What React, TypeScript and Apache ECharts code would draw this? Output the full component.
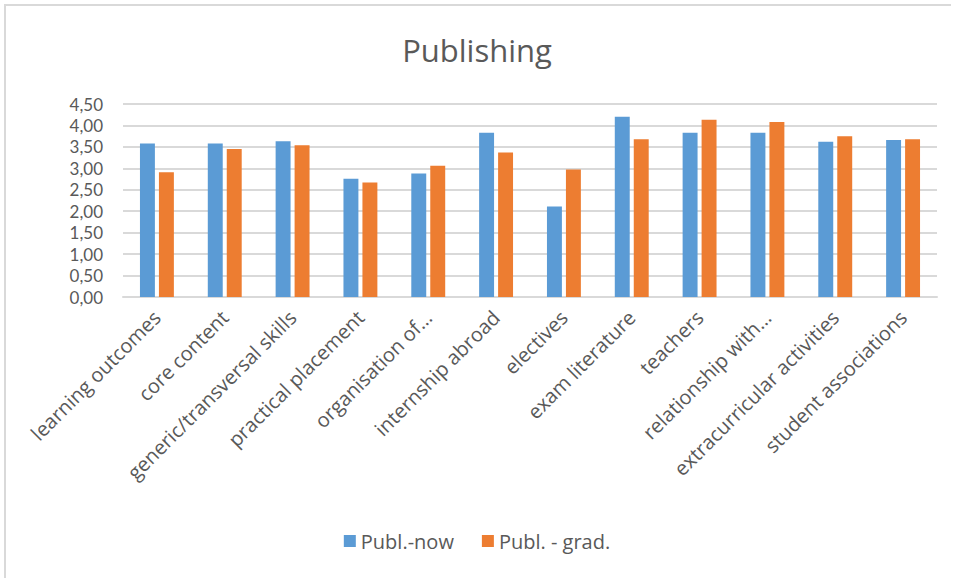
import React, { useEffect, useRef } from "react";
import * as echarts from "echarts";

const categories = [
  "learning outcomes",
  "core content",
  "generic/transversal skills",
  "practical placement",
  "organisation of…",
  "internship abroad",
  "electives",
  "exam literature",
  "teachers",
  "relationship with…",
  "extracurricular activities",
  "student associations",
];
const publNow = [3.58, 3.58, 3.63, 2.76, 2.88, 3.83, 2.11, 4.2, 3.83, 3.83, 3.62, 3.66];
const publGrad = [2.91, 3.45, 3.54, 2.67, 3.06, 3.37, 2.97, 3.68, 4.13, 4.08, 3.75, 3.68];
const seriesNames = ["Publ.-now", "Publ. - grad."];
const yMin = 0;
const yMax = 4.5;
const yInterval = 0.5;

const FONT = "'Open Sans', 'Noto Sans', sans-serif";
const TICK_FONT = "Lato, 'Open Sans', sans-serif";
const GRAY = "#595959";

export default function App() {
  const ref = useRef<HTMLDivElement>(null);
  useEffect(() => {
    if (!ref.current) return;
    const chart = echarts.init(ref.current, undefined, { renderer: "svg" });
    chart.setOption({
      animation: false,
      backgroundColor: "#ffffff",
      textStyle: { fontFamily: FONT },
      title: {
        text: "Publishing",
        left: "center",
        top: 29,
        textStyle: { fontFamily: FONT, fontSize: 31, fontWeight: "normal", color: GRAY },
      },
      graphic: [
        { type: "line", shape: { x1: 4, y1: 5, x2: 951, y2: 5 }, style: { stroke: "#d9d9d9", lineWidth: 2 } },
        { type: "line", shape: { x1: 5, y1: 4, x2: 5, y2: 578 }, style: { stroke: "#d9d9d9", lineWidth: 2 } },
      ],
      legend: {
        bottom: 22,
        left: "center",
        itemWidth: 12,
        itemHeight: 12,
        itemGap: 28,
        icon: "rect",
        textStyle: { fontFamily: FONT, fontSize: 20, color: GRAY },
        data: seriesNames,
      },
      grid: { left: 123, right: 17, top: 104, bottom: 281, containLabel: false },
      xAxis: {
        type: "category",
        data: categories,
        axisLine: { lineStyle: { color: "#d9d9d9", width: 2 } },
        axisTick: { show: false },
        axisLabel: {
          rotate: 45,
          interval: 0,
          margin: 17,
          fontFamily: FONT,
          fontSize: 20,
          color: GRAY,
        },
      },
      yAxis: {
        type: "value",
        min: yMin,
        max: yMax,
        interval: yInterval,
        axisLine: { show: false },
        axisTick: { show: false },
        splitLine: { lineStyle: { color: "#d9d9d9", width: 2 } },
        axisLabel: {
          margin: 20,
          fontFamily: TICK_FONT,
          fontSize: 17,
          lineHeight: 18,
          color: GRAY,
          formatter: (v: number) => v.toFixed(2).replace(".", ","),
        },
      },
      series: [
        {
          name: seriesNames[0],
          type: "bar",
          data: publNow,
          itemStyle: { color: "#5b9bd5" },
          barGap: "27%",
          barCategoryGap: "50%",
        },
        {
          name: seriesNames[1],
          type: "bar",
          data: publGrad,
          itemStyle: { color: "#ed7d31" },
          barGap: "27%",
          barCategoryGap: "50%",
        },
      ],
    });
    return () => chart.dispose();
  }, []);
  return (
    <div
      ref={ref}
      style={{ position: "fixed", left: 0, top: 0, width: 954, height: 578, background: "#fff" }}
    />
  );
}
